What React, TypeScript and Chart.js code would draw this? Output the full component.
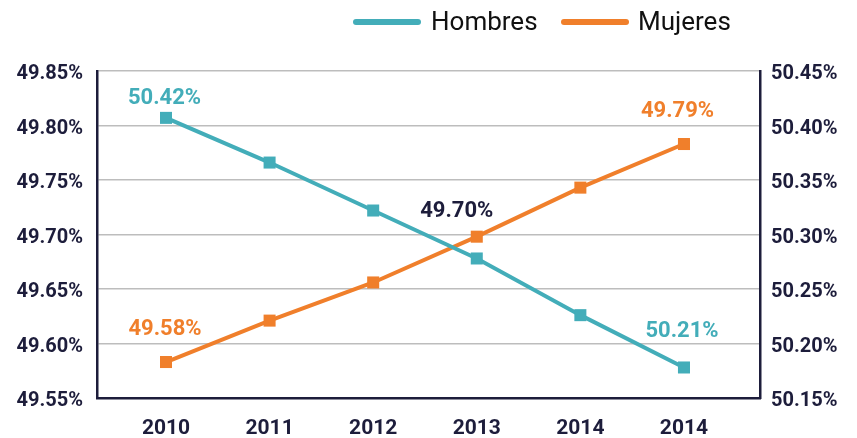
import React, { useEffect, useRef } from 'react';
import { Chart, registerables } from 'chart.js';

Chart.register(...registerables);

// ---- data ----
const years = ['2010', '2011', '2012', '2013', '2014', '2014'];
const hombres = [50.407, 50.366, 50.322, 50.278, 50.226, 50.178];
const mujeres = [49.583, 49.621, 49.656, 49.698, 49.743, 49.783];
const hombresLabels = ['50.42%', null, null, null, null, '50.21%'];
const mujeresLabels = ['49.58%', null, null, '49.70%', null, '49.79%'];
const leftTicks = [49.55, 49.6, 49.65, 49.7, 49.75, 49.8, 49.85];
const rightTicks = [50.15, 50.2, 50.25, 50.3, 50.35, 50.4, 50.45];

// ---- styles ----
const TEAL = '#43adb9';
const ORANGE = '#f07f2b';
const NAVY = '#1d1d3b';
const GRID = '#bdbdbd';
const FONT = 'Roboto';

const pointLabelsPlugin = {
  id: 'pointLabels',
  afterDatasetsDraw(chart: any, _args: any, opts: any) {
    const ctx = chart.ctx;
    (opts.items || []).forEach((item: any) => {
      const meta = chart.getDatasetMeta(item.dataset);
      item.texts.forEach((t: string | null, i: number) => {
        if (!t) return;
        const el = meta.data[i];
        if (!el) return;
        const off = (item.offsets && item.offsets[i]) || [0, -28];
        const color = (item.colors && item.colors[i]) || item.color;
        ctx.save();
        ctx.font = `bold 22px ${FONT}`;
        ctx.fillStyle = color;
        ctx.textAlign = 'center';
        ctx.textBaseline = 'alphabetic';
        ctx.fillText(t, el.x + off[0], el.y + off[1]);
        ctx.restore();
      });
    });
  },
};

export default function App() {
  const canvasRef = useRef<HTMLCanvasElement | null>(null);

  useEffect(() => {
    document.body.style.margin = '0';
    document.body.style.overflow = 'hidden';
    const canvas = canvasRef.current;
    if (!canvas) return;

    const chart = new Chart(canvas, {
      type: 'line',
      data: {
        datasets: [
          {
            label: 'Hombres',
            data: hombres.map((y, i) => ({ x: i, y })),
            yAxisID: 'y1',
            borderColor: TEAL,
            backgroundColor: TEAL,
            borderWidth: 4,
            pointStyle: 'rect',
            pointRadius: 8.5,
            pointBorderWidth: 0,
            pointBackgroundColor: TEAL,
            tension: 0,
          },
          {
            label: 'Mujeres',
            data: mujeres.map((y, i) => ({ x: i, y })),
            yAxisID: 'y',
            borderColor: ORANGE,
            backgroundColor: ORANGE,
            borderWidth: 4,
            pointStyle: 'rect',
            pointRadius: 8.5,
            pointBorderWidth: 0,
            pointBackgroundColor: ORANGE,
            tension: 0,
          },
        ],
      },
      options: {
        animation: false,
        responsive: true,
        maintainAspectRatio: false,
        layout: { padding: { top: 71, left: 0, right: 0, bottom: 0 } },
        plugins: {
          legend: { display: false },
          tooltip: { enabled: false },
          pointLabels: {
            items: [
              {
                dataset: 0,
                texts: hombresLabels,
                color: TEAL,
                offsets: [[-1.5, -13.5], null, null, null, null, [-2, -30]],
              },
              {
                dataset: 1,
                texts: mujeresLabels,
                color: ORANGE,
                colors: [null, null, null, NAVY, null, null],
                offsets: [[-1, -27.5], null, null, [-20, -20], null, [-6.5, -27]],
              },
            ],
          },
        } as any,
        scales: {
          x: {
            type: 'linear',
            min: -0.666,
            max: 5.734,
            grid: { display: false, drawTicks: false },
            border: { display: true, color: NAVY, width: 2.5 },
            afterBuildTicks: (s: any) => {
              s.ticks = years.map((_, i) => ({ value: i }));
            },
            afterFit: (s: any) => {
              s.height = 40;
            },
            ticks: {
              autoSkip: false,
              maxRotation: 0,
              padding: 18,
              color: NAVY,
              font: { family: FONT, size: 21, weight: 'bold' },
              callback: (v: any) => years[v as number] ?? '',
            },
          },
          y: {
            type: 'linear',
            position: 'left',
            min: 49.55,
            max: 49.85,
            afterBuildTicks: (s: any) => {
              s.ticks = leftTicks.map((v) => ({ value: v }));
            },
            afterFit: (s: any) => {
              s.width = 97;
            },
            grid: { color: GRID, lineWidth: 1.5, drawTicks: false },
            border: { display: true, color: NAVY, width: 2.5 },
            ticks: {
              padding: 14,
              labelOffset: 3,
              color: NAVY,
              font: { family: FONT, size: 20, weight: 'bold' },
              callback: (v: any) => Number(v).toFixed(2) + '%',
            },
          },
          y1: {
            type: 'linear',
            position: 'right',
            min: 50.15,
            max: 50.45,
            afterBuildTicks: (s: any) => {
              s.ticks = rightTicks.map((v) => ({ value: v }));
            },
            afterFit: (s: any) => {
              s.width = 97;
            },
            grid: { drawOnChartArea: false, drawTicks: false },
            border: { display: true, color: NAVY, width: 2.5 },
            ticks: {
              padding: 11,
              labelOffset: 3,
              color: NAVY,
              font: { family: FONT, size: 20, weight: 'bold' },
              callback: (v: any) => Number(v).toFixed(2) + '%',
            },
          },
        },
      } as any,
      plugins: [pointLabelsPlugin],
    });

    return () => chart.destroy();
  }, []);

  const legendText: React.CSSProperties = {
    position: 'absolute',
    top: 6,
    fontFamily: FONT,
    fontSize: 26,
    lineHeight: '30px',
    color: '#111',
    whiteSpace: 'nowrap',
  };
  const swatch: React.CSSProperties = {
    position: 'absolute',
    top: 19,
    width: 68,
    height: 6,
    borderRadius: 3,
  };

  return (
    <div style={{ position: 'relative', width: 857, height: 438, overflow: 'hidden', background: '#fff' }}>
      <canvas ref={canvasRef} />
      <div style={{ ...swatch, left: 353, background: TEAL }} />
      <span style={{ ...legendText, left: 431 }}>Hombres</span>
      <div style={{ ...swatch, left: 561, background: ORANGE }} />
      <span style={{ ...legendText, left: 638 }}>Mujeres</span>
    </div>
  );
}
